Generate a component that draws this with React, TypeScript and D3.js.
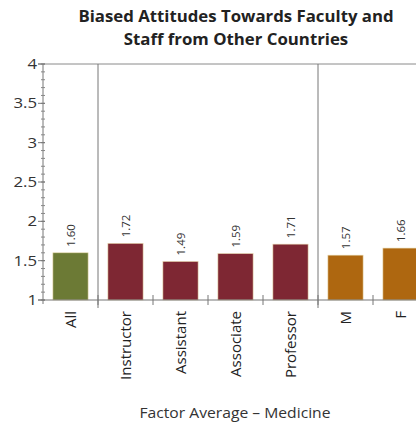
import React from "react";
import * as d3 from "d3";

const categories = ["All", "Instructor", "Assistant", "Associate", "Professor", "M", "F"];
const values = [1.6, 1.72, 1.49, 1.59, 1.71, 1.57, 1.66];
const groups = ["all", "rank", "rank", "rank", "rank", "gender", "gender"];
const yTicks = [1, 1.5, 2, 2.5, 3, 3.5, 4];
const groupColors: Record<string, string> = { all: "#6c7a35", rank: "#7e2733", gender: "#ae6710" };
const separatorsAfter = ["All", "Professor"];

export default function App() {
  const W = 416, H = 426;
  const left = 43, right = 428, top = 64, bottom = 300;
  const x = d3.scaleBand<string>().domain(categories).range([left, right]).paddingInner(0.36).paddingOuter(0.18);
  const xb = d3.scaleBand<string>().domain(categories).range([left, right]);
  const y = d3.scaleLinear().domain([1, 4]).range([bottom, top]);
  const minor = d3.range(10, 41).map((d) => d / 10);
  const font = "'Open Sans', sans-serif";
  return (
    <svg width={W} height={H} style={{ position: "absolute", left: 0, top: 0, background: "#fff" }} fontFamily={font}>
      <text x={236} y={22} textAnchor="middle" fontSize={16.8} fontWeight="bold" fill="#222">Biased Attitudes Towards Faculty and</text>
      <text x={236} y={45} textAnchor="middle" fontSize={16.8} fontWeight="bold" fill="#222">Staff from Other Countries</text>
      {/* top frame */}
      <line x1={38} x2={right} y1={top} y2={top} stroke="#8a8a8a" />
      {/* separators */}
      {separatorsAfter.map((c) => {
        const sx = (xb(c) as number) + xb.bandwidth();
        return <line key={c} x1={sx} x2={sx} y1={top} y2={bottom + 8} stroke="#777" />;
      })}
      {/* y axis */}
      <line x1={left} x2={left} y1={top} y2={bottom + 4} stroke="#777" />
      {minor.map((t) => (
        <line key={t} x1={left - 2} x2={left + 2} y1={y(t)} y2={y(t)} stroke="#888" />
      ))}
      {yTicks.map((t) => (
        <g key={t}>
          <line x1={left - 5} x2={left + 2} y1={y(t)} y2={y(t)} stroke="#777" />
          <text transform={`translate(37,${y(t)}) scale(1.2,1)`} dy="0.35em" textAnchor="end" fontSize={14} fill="#333">{d3.format("")(t)}</text>
        </g>
      ))}
      {/* bars */}
      {categories.map((c, i) => (
        <rect key={c} x={x(c)} y={y(values[i])} width={x.bandwidth()} height={bottom - y(values[i])}
          fill={groupColors[groups[i]]} stroke="#e8d9b0" strokeWidth={0.6} />
      ))}
      {/* x axis */}
      <line x1={38} x2={right} y1={bottom} y2={bottom} stroke="#777" />
      {categories.slice(1).map((c) => (
        <line key={c} x1={xb(c)} x2={xb(c)} y1={bottom - 5} y2={bottom + 5} stroke="#777" />
      ))}
      {/* value labels */}
      {categories.map((c, i) => {
        const cx = (x(c) as number) + x.bandwidth() / 2;
        const ty = y(values[i]) - 6;
        return (
          <text key={c} transform={`translate(${cx},${ty}) rotate(-90)`} dy="0.35em" fontSize={11.5} fill="#333">
            {d3.format(".2f")(values[i])}
          </text>
        );
      })}
      {/* category labels */}
      {categories.map((c) => {
        const cx = (xb(c) as number) + xb.bandwidth() / 2;
        return (
          <text key={c} transform={`translate(${cx},${bottom + 11}) rotate(-90)`} dy="0.35em" textAnchor="end" fontSize={15} fill="#222">
            {c}
          </text>
        );
      })}
      <text transform="translate(235,418) scale(1.12,1)" textAnchor="middle" fontSize={14} fill="#333">Factor Average – Medicine</text>
    </svg>
  );
}
